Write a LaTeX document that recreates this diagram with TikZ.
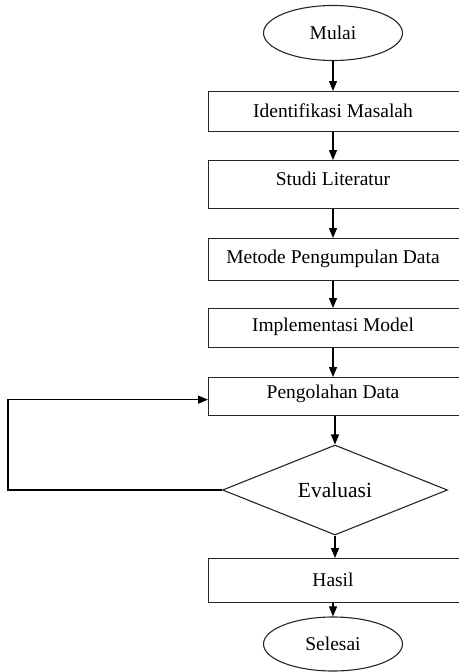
\documentclass[tikz,border=0pt]{standalone}
\usepackage{fontspec}
\setmainfont{Liberation Serif}
\usetikzlibrary{arrows.meta,shapes.geometric}
\begin{document}
\begin{tikzpicture}[x=1pt,y=-1pt,
  every node/.style={font=\fontsize{19.5}{22}\selectfont, text=black},
  stepbox/.style={draw=black!85, line width=1.3pt, minimum width=252pt, inner sep=0pt, anchor=north west},
  term/.style={draw=black!85, line width=1.1pt, ellipse, minimum width=139pt, minimum height=55pt, inner sep=0pt},
  dec/.style={draw=black!85, line width=1.1pt, diamond, minimum width=225pt, minimum height=90pt, inner sep=0pt, font=\fontsize{21.5}{24}\selectfont},
  flow/.style={draw=black, line width=1.2pt, -{Triangle[width=8pt,length=10pt]}}
]
\useasboundingbox (0,0) rectangle (458,672);
\node[term] (mulai) at (333,33) {Mulai};
\node[stepbox, minimum height=40pt] (ident) at (208,91) {};
\node at (333,111) {Identifikasi Masalah};
\node[stepbox, minimum height=48pt] (studi) at (208,160) {};
\node at (333,179) {Studi Literatur};
\node[stepbox, minimum height=42pt] (metode) at (208,238) {};
\node at (333,259) {Metode Pengumpulan Data};
\node[stepbox, minimum height=39pt] (impl) at (208,308) {};
\node at (333,327) {Implementasi Model};
\node[stepbox, minimum height=38pt] (peng) at (208,377) {};
\node at (333,394) {Pengolahan Data};
\node[dec] (eval) at (335,490) {Evaluasi};
\node[stepbox, minimum height=44pt] (hasil) at (208,558) {};
\node at (333,580) {Hasil};
\node[term, minimum height=54pt] (selesai) at (333,644) {Selesai};
\coordinate (loop) at (8,490);
\draw[flow] (mulai.south) -- (mulai.south |- ident.north);
\draw[flow] (mulai.south |- ident.south) -- (mulai.south |- studi.north);
\draw[flow] (mulai.south |- studi.south) -- (mulai.south |- metode.north);
\draw[flow] (mulai.south |- metode.south) -- (mulai.south |- impl.north);
\draw[flow] (mulai.south |- impl.south) -- (mulai.south |- peng.north);
\draw[flow] (eval.north |- peng.south) -- (eval.north);
\draw[flow] (eval.south) -- (eval.south |- hasil.north);
\draw[flow] (selesai.north |- hasil.south) -- (selesai.north);
\draw[flow] (eval.west) -- (loop) |- ([yshift=-3pt]peng.west);
\end{tikzpicture}
\end{document}
